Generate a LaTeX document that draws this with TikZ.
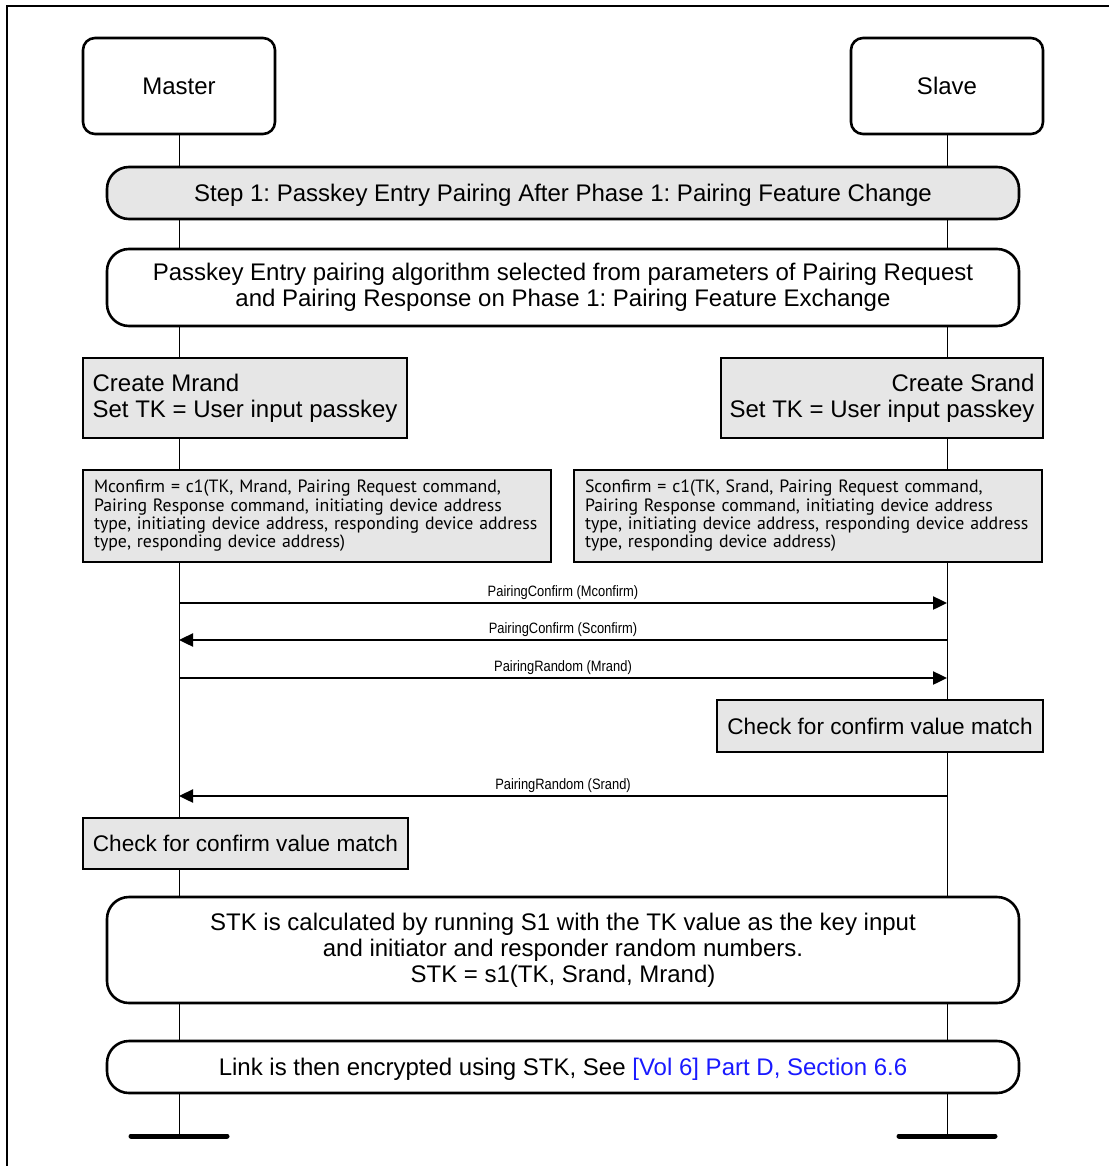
\documentclass[tikz,border=0pt]{standalone}
\usepackage{fontspec}
\setmainfont{Liberation Sans}
\newfontfamily\notefont{PT Sans}
\newfontfamily\msgfont[FakeStretch=0.86]{Liberation Sans}
\usepackage{tikz}
\usetikzlibrary{arrows.meta,backgrounds}
\definecolor{boxgray}{HTML}{E6E6E6}
\definecolor{linkblue}{HTML}{1A1AFF}
\frenchspacing

\begin{document}
\begin{tikzpicture}[x=0.5pt,y=-0.5pt,line width=1pt,
  every node/.style={font=\fontsize{12}{13}\selectfont, line width=1.3pt},
  actor/.style={draw, fill=white, rounded corners=6pt, minimum width=96pt, minimum height=48pt, text depth=0pt},
  phasebar/.style={draw, fill=boxgray, rounded corners=11pt, minimum width=456pt, minimum height=26pt, text depth=0pt},
  infobox/.style={draw, fill=white, rounded corners=11pt, minimum width=456pt, align=center},
  actbox/.style={draw, fill=boxgray, inner xsep=2pt, inner ysep=0pt},
  checkbox/.style={actbox, font=\fontsize{11.3}{13}\selectfont, text depth=0pt},
  calcbox/.style={draw, fill=boxgray, font=\notefont\fontsize{8.9}{9.15}\selectfont, align=left,
    text width=223pt, inner xsep=5.5pt, minimum height=46pt},
  msg/.style={line width=1.2pt, -{Triangle[length=7pt,width=6.5pt]}},
  msglbl/.style={font=\msgfont\fontsize{7.5}{8}\selectfont, above=0.3pt, inner sep=0.5pt},
  endbar/.style={line width=2.5pt, line cap=round}]
\useasboundingbox (0,0) rectangle (1109,1166);
% frame (cut at right and bottom)
\draw (7,1166) -- (7,6) -- (1109,6);
% actors
\node[actor] (master) at (179,86) {Master};
\node[actor] (slave) at (947,86) {Slave};
\coordinate (mEnd) at (179,1136);
\coordinate (sEnd) at (947,1136);
% phase bars and notes
\node[phasebar] (step) at (563,193) {Step 1: Passkey Entry Pairing After Phase 1: Pairing Feature Change};
\node[infobox, minimum height=38.5pt] (select) at (563,287.5)
  {Passkey Entry pairing algorithm selected from parameters of Pairing Request\\and Pairing Response on Phase 1: Pairing Feature Exchange};
\node[actbox, align=left, minimum width=162pt, minimum height=40pt] (mrand) at (245,398)
  {Create Mrand\\Set TK = User input passkey};
\node[actbox, align=right, minimum width=161pt, minimum height=40pt] (srand) at (882,398)
  {Create Srand\\Set TK = User input passkey};
\node[calcbox] (mconf) at (317,516)
  {Mconfirm = c1(TK, Mrand, Pairing Request command,\\Pairing Response command, initiating device address\\type, initiating device address, responding device address\\type, responding device address)};
\node[calcbox] (sconf) at (808,516)
  {Sconfirm = c1(TK, Srand, Pairing Request command,\\Pairing Response command, initiating device address\\type, initiating device address, responding device address\\type, responding device address)};
\node[checkbox, minimum width=163pt, minimum height=26pt] (scheck) at (880,726) {Check for confirm value match};
\node[checkbox, minimum width=162.5pt, minimum height=25.5pt] (mcheck) at (245.5,843.5) {Check for confirm value match};
\node[infobox, minimum height=53pt] (stk) at (563,950)
  {STK is calculated by running S1 with the TK value as the key input\\and initiator and responder random numbers.\\STK = s1(TK, Srand, Mrand)};
\node[infobox, minimum height=26pt, text depth=0pt] (link) at (563,1067)
  {Link is then encrypted using STK, See \textcolor{linkblue}{[Vol 6] Part D, Section 6.6}};
% lifelines
\begin{scope}[on background layer]
\draw (master.south) -- (mEnd);
\draw (slave.south) -- (sEnd);
\end{scope}
\draw[endbar] ([xshift=-24pt]mEnd) -- ([xshift=24pt]mEnd);
\draw[endbar] ([xshift=-24pt]sEnd) -- ([xshift=24pt]sEnd);
% messages
\foreach \i/\y in {1/603,2/640,3/678,4/796} {
  \coordinate (m\i) at (179,\y);
  \coordinate (s\i) at (947,\y);
}
\draw[msg] (m1) -- node[msglbl] {PairingConfirm (Mconfirm)} (s1);
\draw[msg] (s2) -- node[msglbl] {PairingConfirm (Sconfirm)} (m2);
\draw[msg] (m3) -- node[msglbl] {PairingRandom (Mrand)} (s3);
\draw[msg] (s4) -- node[msglbl] {PairingRandom (Srand)} (m4);
\end{tikzpicture}
\end{document}
